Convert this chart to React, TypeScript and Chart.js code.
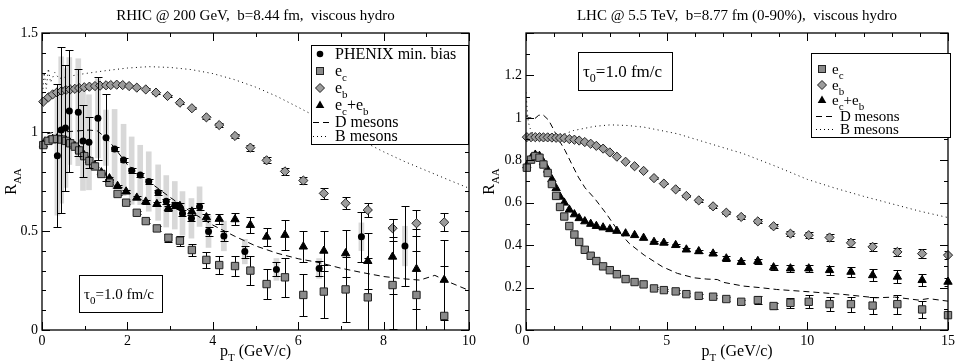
import React, { useEffect, useRef } from "react";
import { Chart, registerables } from "chart.js";

Chart.register(...registerables);

const SERIF = "'Liberation Serif', 'Times New Roman', Times, 'DejaVu Serif', serif";

// ---------------- RHIC panel data ----------------
const RHIC_TITLE = "RHIC @ 200 GeV,  b=8.44 fm,  viscous hydro";

const RHIC_EB_X = [0.03,0.15,0.25,0.35,0.46,0.56,0.66,0.77,0.87,0.99,1.11,1.24,1.36,1.5,1.61,1.75,1.89,2.04,2.22,2.43,2.67,2.94,3.23,3.51,3.85,4.15,4.52,4.88,5.26,5.69,6.12,6.6,7.11,7.63,8.21,8.77,9.42];
const RHIC_EB_Y = [1.153,1.175,1.19,1.2,1.207,1.212,1.215,1.218,1.222,1.226,1.229,1.232,1.234,1.236,1.237,1.239,1.237,1.232,1.224,1.215,1.199,1.182,1.148,1.12,1.074,1.035,0.98,0.921,0.857,0.801,0.755,0.69,0.64,0.606,0.514,0.539,0.544];
const RHIC_EB_ERR = [0,0,0,0,0,0,0,0,0,0,0,0,0,0,0,0,0,0,0,0.005,0.005,0.005,0.006,0.006,0.008,0.01,0.012,0.015,0.016,0.018,0.02,0.028,0.03,0.034,0.045,0.065,0.045];

const RHIC_EC_X = [0.03,0.15,0.25,0.35,0.46,0.56,0.66,0.77,0.87,0.99,1.11,1.24,1.39,1.58,1.77,1.97,2.22,2.43,2.69,2.96,3.23,3.51,3.85,4.15,4.52,4.88,5.26,5.69,6.12,6.6,7.11,7.63,8.21,8.77,9.42];
const RHIC_EC_Y = [0.934,0.955,0.963,0.965,0.962,0.955,0.943,0.926,0.907,0.878,0.853,0.826,0.788,0.744,0.687,0.643,0.592,0.55,0.513,0.466,0.451,0.404,0.354,0.328,0.323,0.3,0.232,0.266,0.177,0.194,0.205,0.165,0.227,0.177,0.071];
const RHIC_EC_ERR = [0,0,0,0,0,0,0,0,0,0,0,0,0.004,0.005,0.006,0.007,0.008,0.01,0.012,0.02,0.025,0.03,0.04,0.045,0.05,0.072,0.075,0.1,0.105,0.135,0.165,0.2,0.22,0.22,0.25];
const RHIC_ECB_Y = [0.936,0.957,0.965,0.967,0.964,0.957,0.946,0.929,0.91,0.882,0.858,0.832,0.796,0.766,0.727,0.699,0.668,0.648,0.636,0.615,0.626,0.598,0.569,0.561,0.559,0.53,0.471,0.48,0.421,0.4,0.387,0.348,0.37,0.308,0.253];
const RHIC_ECB_ERR = [0,0,0,0,0,0,0,0,0,0,0,0,0.004,0.005,0.006,0.007,0.008,0.01,0.01,0.012,0.014,0.016,0.018,0.025,0.03,0.04,0.045,0.076,0.08,0.1,0.12,0.14,0.19,0.2,0.2];

const PHENIX_X = [0.36,0.45,0.55,0.64,0.85,0.96,1.1,1.31,1.5,1.7,1.91,2.1,2.3,2.5,2.72,2.91,3.11,3.29,3.5,3.69,3.9,4.26,4.75,5.49,6.49,7.48,8.5];
const PHENIX_Y = [0.88,1.01,1.02,1.106,1.1,0.955,0.948,1.069,0.971,0.914,0.859,0.805,0.783,0.75,0.694,0.65,0.63,0.589,0.564,0.623,0.497,0.475,0.396,0.306,0.311,0.471,0.424];
const PHENIX_STAT = [0.36,0.42,0.32,0.31,0.22,0.18,0.13,0.21,0.22,0.012,0.012,0.012,0.012,0.012,0.012,0.012,0.014,0.015,0.016,0.018,0.022,0.025,0.03,0.035,0.04,0.127,0.2];
const PHENIX_SYS = [0.3,0.37,0.3,0.27,0.27,0.25,0.24,0.2,0.14,0.2,0.18,0.17,0.15,0.15,0.14,0.13,0.12,0.11,0.1,0.1,0.08,0.075,0.062,0.055,0.05,0.07,0.1];

const RHIC_D_X = [0,0.1,0.3,0.5,0.8,1.1,1.3,1.5,1.7,2.0,2.5,3.0,3.5,4.0,4.5,5.0,5.5,6.0,6.5,7.0,7.5,8.0,8.5,8.85,9.2,9.5,10];
const RHIC_D_Y = [0.95,0.99,1.0,1.0,1.005,1.01,1.005,0.97,0.92,0.835,0.75,0.67,0.595,0.53,0.475,0.425,0.388,0.36,0.34,0.312,0.29,0.27,0.258,0.252,0.276,0.245,0.2];

const RHIC_B_X = [0,0.05,0.1,0.15,0.2,0.3,0.4,0.6,1.0,1.5,2.0,2.5,3.0,3.5,4.0,4.5,5.0,5.5,6.0,6.5,7.0,7.5,8.0,8.5,9.0,9.5,10];
const RHIC_B_Y = [1.15,1.3,1.22,1.32,1.25,1.3,1.27,1.28,1.295,1.31,1.323,1.33,1.326,1.315,1.295,1.265,1.227,1.18,1.125,1.068,1.01,0.955,0.9,0.85,0.805,0.76,0.716];

// ---------------- LHC panel data ----------------
const LHC_TITLE = "LHC @ 5.5 TeV,  b=8.77 fm (0-90%),  viscous hydro";

const LHC_X = [0.03,0.18,0.33,0.48,0.62,0.77,0.92,1.07,1.21,1.36,1.54,1.72,1.89,2.09,2.3,2.5,2.74,2.98,3.23,3.54,3.86,4.18,4.55,4.9,5.32,5.7,6.14,6.65,7.12,7.65,8.24,8.8,9.4,10.05,10.79,11.55,12.32,13.2,14.08,15.0];
const LHC_EC_Y = [0.765,0.803,0.82,0.812,0.78,0.74,0.688,0.632,0.58,0.535,0.49,0.45,0.415,0.378,0.35,0.325,0.3,0.282,0.263,0.24,0.226,0.215,0.196,0.188,0.182,0.169,0.161,0.157,0.146,0.133,0.141,0.113,0.128,0.133,0.122,0.122,0.115,0.122,0.097,0.07];
const LHC_EC_ERR = [0,0,0,0,0,0,0,0,0,0,0,0,0,0,0,0,0,0,0,0,0,0,0.005,0.005,0.006,0.007,0.008,0.008,0.009,0.01,0.018,0.012,0.025,0.03,0.032,0.035,0.04,0.045,0.04,0.008];
const LHC_EB_Y = [0.909,0.909,0.909,0.909,0.908,0.908,0.907,0.906,0.905,0.904,0.9,0.897,0.893,0.886,0.878,0.868,0.855,0.837,0.817,0.793,0.772,0.75,0.716,0.69,0.663,0.632,0.611,0.583,0.553,0.533,0.512,0.489,0.454,0.447,0.436,0.411,0.392,0.368,0.36,0.353];
const LHC_EB_ERR = [0,0,0,0,0,0,0,0,0,0,0,0,0,0,0,0,0,0,0,0,0,0,0.004,0.004,0.005,0.005,0.006,0.006,0.007,0.008,0.009,0.01,0.012,0.014,0.015,0.018,0.02,0.02,0.022,0.018];
const LHC_ECB_Y = [0.775,0.81,0.826,0.82,0.79,0.755,0.71,0.668,0.628,0.6,0.567,0.545,0.527,0.512,0.5,0.49,0.483,0.475,0.467,0.455,0.447,0.434,0.415,0.411,0.4,0.379,0.371,0.36,0.337,0.321,0.325,0.295,0.29,0.29,0.282,0.274,0.258,0.251,0.235,0.227];
const LHC_ECB_ERR = [0,0,0,0,0,0,0,0,0,0,0,0,0,0,0,0,0,0,0,0,0,0,0.005,0.005,0.006,0.007,0.008,0.008,0.01,0.01,0.012,0.012,0.015,0.018,0.022,0.025,0.028,0.03,0.028,0.02];

const LHC_D_X = [0,0.1,0.2,0.3,0.45,0.6,0.8,0.97,1.15,1.39,1.62,1.86,2.1,2.44,2.85,3.26,3.67,4.2,4.85,5.38,5.97,6.43,6.8,7.0,7.73,8.3,8.91,10.08,11.26,12.43,13.1,13.96,14.3,15];
const LHC_D_Y = [1.01,1.0,1.0,0.995,1.012,1.015,0.99,0.948,0.9,0.846,0.784,0.721,0.67,0.62,0.549,0.47,0.408,0.353,0.298,0.267,0.246,0.24,0.238,0.225,0.207,0.2,0.191,0.18,0.168,0.152,0.155,0.141,0.148,0.136];

const LHC_B_X = [0,0.03,0.08,0.15,0.3,0.5,0.8,1.1,1.39,1.68,1.98,2.44,3.0,3.6,4.2,5.38,6.55,7.73,8.91,10,11,12,13,14,15];
const LHC_B_Y = [1.12,1.06,0.98,0.95,0.91,0.905,0.91,0.918,0.925,0.94,0.948,0.96,0.967,0.964,0.956,0.925,0.878,0.831,0.77,0.71,0.668,0.63,0.595,0.56,0.53];

// ---------------- helpers ----------------
const SQ_FILL = "#8a8a8a";
const DM_FILL = "#9c9c9c";
const SYS_FILL = "#d8d8d8";

const xy = (xs: number[], ys: number[]) => xs.map((x, i) => ({ x, y: ys[i] }));
const fnt = (size: number) => `${size}px ${SERIF}`;

type Part = [string, boolean];
const P = (s: string, sub = false): Part => [s, sub];

function drawRich(ctx: CanvasRenderingContext2D, parts: Part[], x: number, y: number, size: number, align: "left" | "center" = "left") {
  const sub = Math.round(size * 0.7);
  let w = 0;
  parts.forEach(([t, s]) => {
    ctx.font = fnt(s ? sub : size);
    w += ctx.measureText(t).width;
  });
  let cx = align === "center" ? x - w / 2 : x;
  ctx.textAlign = "left";
  ctx.textBaseline = "alphabetic";
  ctx.fillStyle = "#000";
  parts.forEach(([t, s]) => {
    ctx.font = fnt(s ? sub : size);
    ctx.fillText(t, cx, s ? y + size * 0.3 : y);
    cx += ctx.measureText(t).width;
  });
}

function drawSymbol(ctx: CanvasRenderingContext2D, kind: string, x: number, y: number, x0: number, x1: number) {
  ctx.save();
  ctx.lineWidth = 1;
  ctx.strokeStyle = "#222";
  if (kind === "circle") {
    ctx.fillStyle = "#000";
    ctx.beginPath();
    ctx.arc(x, y, 3.3, 0, Math.PI * 2);
    ctx.fill();
  } else if (kind === "square") {
    ctx.fillStyle = SQ_FILL;
    ctx.fillRect(x - 3.5, y - 3.5, 7, 7);
    ctx.strokeRect(x - 3.5, y - 3.5, 7, 7);
  } else if (kind === "diamond") {
    ctx.fillStyle = DM_FILL;
    ctx.beginPath();
    ctx.moveTo(x, y - 4.5);
    ctx.lineTo(x + 4.5, y);
    ctx.lineTo(x, y + 4.5);
    ctx.lineTo(x - 4.5, y);
    ctx.closePath();
    ctx.fill();
    ctx.stroke();
  } else if (kind === "triangle") {
    ctx.fillStyle = "#000";
    ctx.beginPath();
    ctx.moveTo(x, y - 4.5);
    ctx.lineTo(x + 4.3, y + 3);
    ctx.lineTo(x - 4.3, y + 3);
    ctx.closePath();
    ctx.fill();
  } else {
    ctx.strokeStyle = "#000";
    ctx.setLineDash(kind === "dash" ? [6, 4] : [1, 3]);
    ctx.beginPath();
    ctx.moveTo(x0, y + 0.5);
    ctx.lineTo(x1, y + 0.5);
    ctx.stroke();
  }
  ctx.restore();
}

const errorBarPlugin = {
  id: "errorBars",
  beforeDatasetDraw(chart: any, args: any) {
    const ds = chart.data.datasets[args.index];
    const errs: number[] | undefined = ds.errs;
    if (!errs) return;
    const ys = chart.scales.y;
    const a = chart.chartArea;
    const ctx = chart.ctx as CanvasRenderingContext2D;
    ctx.save();
    ctx.beginPath();
    ctx.rect(a.left, a.top, a.right - a.left, a.bottom - a.top);
    ctx.clip();
    ctx.strokeStyle = ds.errColor || "#000";
    ctx.lineWidth = 1;
    ctx.beginPath();
    args.meta.data.forEach((el: any, i: number) => {
      const e = errs[i];
      if (!e) return;
      const v = ds.data[i].y;
      const x = Math.round(el.x) + 0.5;
      const yt = Math.round(ys.getPixelForValue(v + e)) + 0.5;
      const yb = Math.round(ys.getPixelForValue(v - e)) + 0.5;
      ctx.moveTo(x, yt);
      ctx.lineTo(x, yb);
      ctx.moveTo(x - 4, yt);
      ctx.lineTo(x + 4, yt);
      ctx.moveTo(x - 4, yb);
      ctx.lineTo(x + 4, yb);
    });
    ctx.stroke();
    ctx.restore();
  },
};

function makeFrame(t: { xMajor: number; xMinor: number; yMajor: number; yMinor: number }) {
  const isMajor = (v: number, m: number) => Math.abs(v / m - Math.round(v / m)) < 1e-6;
  return {
    id: "frameTicks",
    afterDatasetsDraw(chart: any) {
      const ctx = chart.ctx as CanvasRenderingContext2D;
      const a = chart.chartArea;
      const xs = chart.scales.x;
      const ys = chart.scales.y;
      ctx.save();
      ctx.strokeStyle = "#000";
      ctx.lineWidth = 1;
      ctx.beginPath();
      const nx = Math.round((xs.max - xs.min) / t.xMinor);
      for (let i = 0; i <= nx; i++) {
        const v = xs.min + i * t.xMinor;
        const len = isMajor(v, t.xMajor) ? 8 : 4;
        const px = Math.round(xs.getPixelForValue(v)) + 0.5;
        ctx.moveTo(px, a.bottom);
        ctx.lineTo(px, a.bottom - len);
        ctx.moveTo(px, a.top);
        ctx.lineTo(px, a.top + len);
      }
      const ny = Math.round((ys.max - ys.min) / t.yMinor);
      for (let i = 0; i <= ny; i++) {
        const v = ys.min + i * t.yMinor;
        const len = isMajor(v, t.yMajor) ? 8 : 4;
        const py = Math.round(ys.getPixelForValue(v)) + 0.5;
        ctx.moveTo(a.left, py);
        ctx.lineTo(a.left + len, py);
        ctx.moveTo(a.right, py);
        ctx.lineTo(a.right - len, py);
      }
      ctx.stroke();
      ctx.lineWidth = 1.3;
      ctx.strokeRect(a.left, a.top, a.right - a.left, a.bottom - a.top);
      ctx.restore();
    },
  };
}

type Row = { kind: string; y: number; parts: Part[] };
type AnnotCfg = {
  yTitleX: number;
  xTitleY: number;
  legend: { x0: number; y0: number; x1: number; y1: number; symX: number; textX: number; lineX0: number; lineX1: number; lineTextX: number; size: number; rows: Row[] };
  tau: { x0: number; y0: number; x1: number; y1: number; tx: number; ty: number; size: number };
};

const PT_TITLE: Part[] = [P("p"), P("T", true), P(" (GeV/c)")];
const RAA_TITLE: Part[] = [P("R"), P("AA", true)];
const TAU_TEXT: Part[] = [P("\u03c4"), P("0", true), P("=1.0 fm/c")];

function makeAnnot(cfg: AnnotCfg) {
  return {
    id: "annot",
    afterDraw(chart: any) {
      const ctx = chart.ctx as CanvasRenderingContext2D;
      const a = chart.chartArea;
      ctx.save();
      drawRich(ctx, PT_TITLE, (a.left + a.right) / 2, cfg.xTitleY, 16, "center");
      ctx.save();
      ctx.translate(cfg.yTitleX, (a.top + a.bottom) / 2);
      ctx.rotate(-Math.PI / 2);
      drawRich(ctx, RAA_TITLE, 0, 0, 16, "center");
      ctx.restore();
      const L = cfg.legend;
      ctx.fillStyle = "#fff";
      ctx.fillRect(L.x0, L.y0, L.x1 - L.x0, L.y1 - L.y0);
      ctx.strokeStyle = "#000";
      ctx.lineWidth = 1;
      ctx.strokeRect(L.x0 + 0.5, L.y0 + 0.5, L.x1 - L.x0 - 1, L.y1 - L.y0 - 1);
      L.rows.forEach((r) => {
        const isLine = r.kind === "dash" || r.kind === "dot";
        drawSymbol(ctx, r.kind, L.symX, r.y, L.lineX0, L.lineX1);
        drawRich(ctx, r.parts, isLine ? L.lineTextX : L.textX, r.y + 5, L.size);
      });
      const T = cfg.tau;
      ctx.fillStyle = "#fff";
      ctx.fillRect(T.x0, T.y0, T.x1 - T.x0, T.y1 - T.y0);
      ctx.strokeStyle = "#000";
      ctx.strokeRect(T.x0 + 0.5, T.y0 + 0.5, T.x1 - T.x0 - 1, T.y1 - T.y0 - 1);
      drawRich(ctx, TAU_TEXT, T.tx, T.ty, T.size);
      ctx.restore();
    },
  };
}

const tickFont = { family: SERIF, size: 14 };

function axisX(max: number, step: number, h: number) {
  return {
    type: "linear",
    min: 0,
    max,
    offset: false,
    ticks: { stepSize: step, font: tickFont, color: "#000", padding: 3, maxRotation: 0, autoSkip: false },
    grid: { display: false, drawTicks: false, offset: false },
    border: { display: false },
    afterFit: (s: any) => {
      s.height = h;
    },
  };
}

function axisY(max: number, step: number, w: number, labelMax: number) {
  return {
    type: "linear",
    min: 0,
    max,
    offset: false,
    ticks: {
      stepSize: step,
      font: tickFont,
      color: "#000",
      padding: 4,
      autoSkip: false,
      callback: (v: number) => (v > labelMax + 1e-6 ? "" : String(Math.round(v * 10) / 10)),
    },
    grid: { display: false, drawTicks: false },
    border: { display: false },
    afterFit: (s: any) => {
      s.width = w;
    },
  };
}

function titleOpts(text: string) {
  return {
    display: true,
    text,
    fullSize: false,
    color: "#000",
    font: { family: SERIF, size: 15, weight: "normal" },
    padding: { top: 7, bottom: 8 },
  };
}

function scatterDs(label: string, xs: number[], ys: number[], errs: number[], style: any, order: number) {
  return { type: "scatter", label, data: xy(xs, ys), errs, clip: false, order, ...style };
}

const EC_STYLE = { pointStyle: "rect", pointRadius: 5.2, backgroundColor: SQ_FILL, borderColor: "#222", borderWidth: 1 };
const EB_STYLE = { pointStyle: "rectRot", pointRadius: 4.6, backgroundColor: DM_FILL, borderColor: "#222", borderWidth: 1 };
const ECB_STYLE = { pointStyle: "triangle", pointRadius: 4.8, backgroundColor: "#000", borderColor: "#000", borderWidth: 1 };
const DATA_STYLE = { pointStyle: "circle", pointRadius: 3.5, backgroundColor: "#000", borderColor: "#000", borderWidth: 0 };

function lineDs(label: string, xs: number[], ys: number[], dash: number[], order: number) {
  return {
    type: "line",
    label,
    data: xy(xs, ys),
    borderColor: "#000",
    borderWidth: 1,
    borderDash: dash,
    pointRadius: 0,
    fill: false,
    tension: 0,
    order,
  };
}

function buildRhic() {
  const datasets = [
    {
      type: "bar",
      label: "PHENIX sys.",
      data: PHENIX_X.map((x, i) => ({ x, y: [PHENIX_Y[i] - PHENIX_SYS[i], PHENIX_Y[i] + PHENIX_SYS[i]] })),
      backgroundColor: SYS_FILL,
      borderWidth: 0,
      barThickness: 5,
      grouped: false,
      order: 9,
    },
    lineDs("B mesons", RHIC_B_X, RHIC_B_Y, [1, 3.5], 8),
    lineDs("D mesons", RHIC_D_X, RHIC_D_Y, [6, 4], 7),
    scatterDs("e_b", RHIC_EB_X, RHIC_EB_Y, RHIC_EB_ERR, EB_STYLE, 4),
    scatterDs("e_c+e_b", RHIC_EC_X, RHIC_ECB_Y, RHIC_ECB_ERR, ECB_STYLE, 3),
    scatterDs("e_c", RHIC_EC_X, RHIC_EC_Y, RHIC_EC_ERR, EC_STYLE, 2),
    scatterDs("PHENIX min. bias", PHENIX_X, PHENIX_Y, PHENIX_STAT, DATA_STYLE, 1),
  ];
  const annot: AnnotCfg = {
    yTitleX: 16,
    xTitleY: 356,
    legend: {
      x0: 311, y0: 45, x1: 469, y1: 145,
      symX: 320, textX: 335, lineX0: 313, lineX1: 329, lineTextX: 335, size: 16,
      rows: [
        { kind: "circle", y: 54, parts: [P("PHENIX min. bias")] },
        { kind: "square", y: 71, parts: [P("e"), P("c", true)] },
        { kind: "diamond", y: 88, parts: [P("e"), P("b", true)] },
        { kind: "triangle", y: 105, parts: [P("e"), P("c", true), P("+e"), P("b", true)] },
        { kind: "dash", y: 122, parts: [P("D mesons")] },
        { kind: "dot", y: 136, parts: [P("B mesons")] },
      ],
    },
    tau: { x0: 79, y0: 275, x1: 163, y1: 313, tx: 84, ty: 299, size: 15 },
  };
  return {
    type: "scatter",
    data: { datasets },
    options: {
      responsive: false,
      animation: false,
      devicePixelRatio: 1,
      events: [],
      layout: { padding: { left: 0, right: 10, top: 0, bottom: 0 } },
      plugins: { legend: { display: false }, tooltip: { enabled: false }, title: titleOpts(RHIC_TITLE) },
      scales: { x: axisX(10, 2, 34), y: axisY(1.5, 0.5, 42, 1.5) },
    },
    plugins: [errorBarPlugin, makeFrame({ xMajor: 2, xMinor: 1, yMajor: 0.5, yMinor: 0.1 }), makeAnnot(annot)],
  };
}

function buildLhc() {
  const datasets = [
    lineDs("B mesons", LHC_B_X, LHC_B_Y, [1, 3.5], 8),
    lineDs("D mesons", LHC_D_X, LHC_D_Y, [6, 4], 7),
    scatterDs("e_b", LHC_X, LHC_EB_Y, LHC_EB_ERR, EB_STYLE, 4),
    scatterDs("e_c+e_b", LHC_X, LHC_ECB_Y, LHC_ECB_ERR, ECB_STYLE, 3),
    scatterDs("e_c", LHC_X, LHC_EC_Y, LHC_EC_ERR, EC_STYLE, 2),
  ];
  const annot: AnnotCfg = {
    yTitleX: 15,
    xTitleY: 356,
    legend: {
      x0: 332, y0: 53, x1: 472, y1: 138,
      symX: 343, textX: 353, lineX0: 337, lineX1: 357, lineTextX: 361, size: 15,
      rows: [
        { kind: "square", y: 69, parts: [P("e"), P("c", true)] },
        { kind: "diamond", y: 85, parts: [P("e"), P("b", true)] },
        { kind: "triangle", y: 100, parts: [P("e"), P("c", true), P("+e"), P("b", true)] },
        { kind: "dash", y: 116, parts: [P("D mesons")] },
        { kind: "dot", y: 129, parts: [P("B mesons")] },
      ],
    },
    tau: { x0: 99, y0: 52, x1: 194, y1: 91, tx: 104, ty: 77, size: 17 },
  };
  return {
    type: "scatter",
    data: { datasets },
    options: {
      responsive: false,
      animation: false,
      devicePixelRatio: 1,
      events: [],
      layout: { padding: { left: 0, right: 8, top: 0, bottom: 0 } },
      plugins: { legend: { display: false }, tooltip: { enabled: false }, title: titleOpts(LHC_TITLE) },
      scales: { x: axisX(15, 5, 34), y: axisY(1.4, 0.2, 47, 1.2) },
    },
    plugins: [errorBarPlugin, makeFrame({ xMajor: 5, xMinor: 1, yMajor: 0.2, yMinor: 0.1 }), makeAnnot(annot)],
  };
}

function Panel({ left, build }: { left: number; build: () => any }) {
  const ref = useRef<HTMLCanvasElement>(null);
  useEffect(() => {
    let chart: Chart | null = null;
    let cancelled = false;
    const create = () => {
      if (cancelled || !ref.current) return;
      chart = new Chart(ref.current, build());
    };
    const fonts: any = (document as any).fonts;
    if (fonts && fonts.load) {
      Promise.all([
        fonts.load("15px 'Liberation Serif'"),
        fonts.load("15px 'DejaVu Serif'"),
      ])
        .catch(() => undefined)
        .then(create);
    } else {
      create();
    }
    return () => {
      cancelled = true;
      if (chart) chart.destroy();
    };
  }, []);
  return (
    <canvas
      ref={ref}
      width={479}
      height={364}
      style={{ position: "absolute", left, top: 0, width: 479, height: 364 }}
    />
  );
}

export default function App() {
  return (
    <div style={{ position: "absolute", left: 0, top: 0, width: 958, height: 364, background: "#fff", overflow: "hidden" }}>
      <span style={{ position: "absolute", left: -1000, top: 0, fontFamily: SERIF }}>.</span>
      <Panel left={0} build={buildRhic} />
      <Panel left={479} build={buildLhc} />
    </div>
  );
}
